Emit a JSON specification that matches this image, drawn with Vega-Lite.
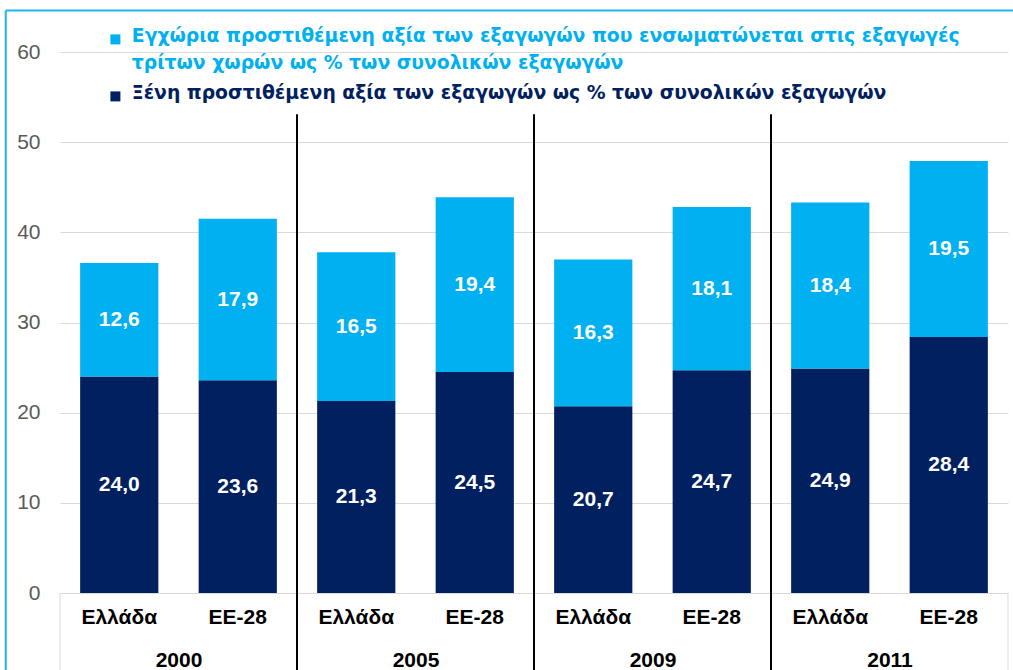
{
  "$schema": "https://vega.github.io/schema/vega-lite/v6.json",
  "width": 948,
  "height": 541,
  "autosize": "none",
  "padding": {"left": 60, "top": 52, "right": 5, "bottom": 77},
  "config": {
    "view": {"stroke": null},
    "font": "Liberation Sans",
    "locale": {"number": {"decimal": ",", "thousands": ".", "grouping": [3], "currency": ["", " €"]}}
  },
  "datasets": {
    "bars": [
      {"key": "2000|Ελλάδα", "series": "Ξένη προστιθέμενη αξία των εξαγωγών ως % των συνολικών εξαγωγών", "ord": 1, "value": 24.0},
      {"key": "2000|Ελλάδα", "series": "Εγχώρια προστιθέμενη αξία των εξαγωγών που ενσωματώνεται στις εξαγωγές τρίτων χωρών ως % των συνολικών εξαγωγών", "ord": 2, "value": 12.6},
      {"key": "2000|ΕΕ-28", "series": "Ξένη προστιθέμενη αξία των εξαγωγών ως % των συνολικών εξαγωγών", "ord": 1, "value": 23.6},
      {"key": "2000|ΕΕ-28", "series": "Εγχώρια προστιθέμενη αξία των εξαγωγών που ενσωματώνεται στις εξαγωγές τρίτων χωρών ως % των συνολικών εξαγωγών", "ord": 2, "value": 17.9},
      {"key": "2005|Ελλάδα", "series": "Ξένη προστιθέμενη αξία των εξαγωγών ως % των συνολικών εξαγωγών", "ord": 1, "value": 21.3},
      {"key": "2005|Ελλάδα", "series": "Εγχώρια προστιθέμενη αξία των εξαγωγών που ενσωματώνεται στις εξαγωγές τρίτων χωρών ως % των συνολικών εξαγωγών", "ord": 2, "value": 16.5},
      {"key": "2005|ΕΕ-28", "series": "Ξένη προστιθέμενη αξία των εξαγωγών ως % των συνολικών εξαγωγών", "ord": 1, "value": 24.5},
      {"key": "2005|ΕΕ-28", "series": "Εγχώρια προστιθέμενη αξία των εξαγωγών που ενσωματώνεται στις εξαγωγές τρίτων χωρών ως % των συνολικών εξαγωγών", "ord": 2, "value": 19.4},
      {"key": "2009|Ελλάδα", "series": "Ξένη προστιθέμενη αξία των εξαγωγών ως % των συνολικών εξαγωγών", "ord": 1, "value": 20.7},
      {"key": "2009|Ελλάδα", "series": "Εγχώρια προστιθέμενη αξία των εξαγωγών που ενσωματώνεται στις εξαγωγές τρίτων χωρών ως % των συνολικών εξαγωγών", "ord": 2, "value": 16.3},
      {"key": "2009|ΕΕ-28", "series": "Ξένη προστιθέμενη αξία των εξαγωγών ως % των συνολικών εξαγωγών", "ord": 1, "value": 24.7},
      {"key": "2009|ΕΕ-28", "series": "Εγχώρια προστιθέμενη αξία των εξαγωγών που ενσωματώνεται στις εξαγωγές τρίτων χωρών ως % των συνολικών εξαγωγών", "ord": 2, "value": 18.1},
      {"key": "2011|Ελλάδα", "series": "Ξένη προστιθέμενη αξία των εξαγωγών ως % των συνολικών εξαγωγών", "ord": 1, "value": 24.9},
      {"key": "2011|Ελλάδα", "series": "Εγχώρια προστιθέμενη αξία των εξαγωγών που ενσωματώνεται στις εξαγωγές τρίτων χωρών ως % των συνολικών εξαγωγών", "ord": 2, "value": 18.4},
      {"key": "2011|ΕΕ-28", "series": "Ξένη προστιθέμενη αξία των εξαγωγών ως % των συνολικών εξαγωγών", "ord": 1, "value": 28.4},
      {"key": "2011|ΕΕ-28", "series": "Εγχώρια προστιθέμενη αξία των εξαγωγών που ενσωματώνεται στις εξαγωγές τρίτων χωρών ως % των συνολικών εξαγωγών", "ord": 2, "value": 19.5}
    ],
    "separators": [{"boundary": 2}, {"boundary": 4}, {"boundary": 6}],
    "edges": [{"boundary": 0}, {"boundary": 8}],
    "frame": [{"boundary": -0.458}]
  },
  "resolve": {"scale": {"x": "independent"}, "axis": {"x": "independent"}},
  "layer": [
    {
      "data": {"name": "bars"},
      "transform": [
        {"stack": "value", "groupby": ["key"], "sort": [{"field": "ord"}], "as": ["v0", "v1"]},
        {"calculate": "(datum.v0 + datum.v1) / 2", "as": "mid"}
      ],
      "encoding": {
        "x": {
          "field": "key", "type": "nominal", "sort": null,
          "scale": {"paddingInner": 0.34, "paddingOuter": 0.17},
          "axis": {
            "orient": "bottom", "title": null, "ticks": false, "domain": true, "domainColor": "#D9D9D9", "domainWidth": 1,
            "labelAngle": 0, "labelFont": "Liberation Sans", "labelFontSize": 21, "labelFontWeight": "bold",
            "labelColor": "#000000", "labelPadding": 13,
            "labelExpr": "split(datum.value, '|')[1]"
          }
        }
      },
      "layer": [
        {
          "mark": {"type": "bar"},
          "encoding": {
            "y": {
              "field": "v0", "type": "quantitative",
              "scale": {"domain": [0, 60], "nice": false, "zero": false},
              "axis": {
                "title": null, "values": [0, 10, 20, 30, 40, 50, 60], "ticks": false, "domain": false,
                "grid": true, "gridColor": "#D9D9D9", "gridWidth": 1,
                "labelFont": "Liberation Sans", "labelFontSize": 21, "labelColor": "#595959", "labelPadding": 20
              }
            },
            "y2": {"field": "v1"},
            "color": {
              "field": "series", "type": "nominal",
              "scale": {
                "domain": ["Εγχώρια προστιθέμενη αξία των εξαγωγών που ενσωματώνεται στις εξαγωγές τρίτων χωρών ως % των συνολικών εξαγωγών", "Ξένη προστιθέμενη αξία των εξαγωγών ως % των συνολικών εξαγωγών"],
                "range": ["#00B0F0", "#002060"]
              },
              "legend": {
                "orient": "none", "legendX": 46, "legendY": -22, "title": null,
                "symbolType": "square", "symbolSize": 100, "symbolStrokeWidth": 0,
                "labelFont": "DejaVu Sans", "labelFontSize": 18.8, "labelFontWeight": "bold",
                "labelLimit": 1000, "labelOffset": 7, "rowPadding": 10, "padding": 0,
                "labelExpr": "indexof(datum.value, 'Εγχώρια') == 0 ? ['Εγχώρια προστιθέμενη αξία των εξαγωγών που ενσωματώνεται στις εξαγωγές', 'τρίτων χωρών ως % των συνολικών εξαγωγών'] : datum.value",
                "encode": {
                  "labels": {
                    "update": {
                      "fill": {"signal": "indexof(datum.value, 'Εγχώρια') == 0 ? '#00B0F0' : '#002060'"},
                      "lineHeight": {"value": 27},
                      "baseline": {"value": "top"},
                      "dy": {"value": -12}
                    }
                  }
                }
              }
            },
            "order": {"field": "ord"}
          }
        },
        {
          "mark": {"type": "text", "color": "#FFFFFF", "font": "Liberation Sans", "fontSize": 21, "fontWeight": "bold", "baseline": "middle"},
          "encoding": {
            "y": {"field": "mid", "type": "quantitative"},
            "text": {"field": "value", "type": "quantitative", "format": ".1f"}
          }
        }
      ]
    },
    {
      "encoding": {
        "x": {
          "field": "boundary", "type": "quantitative",
          "scale": {"domain": [0, 8], "nice": false, "zero": false},
          "axis": {
            "orient": "bottom", "title": null, "values": [1, 3, 5, 7], "ticks": false, "domain": false, "grid": false,
            "labelFont": "Liberation Sans", "labelFontSize": 21, "labelFontWeight": "bold", "labelColor": "#000000",
            "labelPadding": 56,
            "labelExpr": "['2000', '2005', '2009', '2011'][(datum.value - 1) / 2]"
          }
        }
      },
      "layer": [
        {
          "data": {"name": "separators"},
          "mark": {"type": "rule", "color": "#000000", "strokeWidth": 2},
          "encoding": {
            "y": {"datum": 53.1, "type": "quantitative"},
            "y2": {"datum": -8.6}
          }
        },
        {
          "data": {"name": "edges"},
          "mark": {"type": "rule", "color": "#D9D9D9", "strokeWidth": 1},
          "encoding": {
            "y": {"datum": 0, "type": "quantitative"},
            "y2": {"datum": -8.6}
          }
        },
        {
          "data": {"name": "frame"},
          "mark": {"type": "rule", "color": "#1EB4F0", "strokeWidth": 2},
          "encoding": {
            "y": {"datum": 64.6, "type": "quantitative"},
            "y2": {"datum": -10}
          }
        },
        {
          "data": {"name": "frame"},
          "mark": {"type": "rule", "color": "#1EB4F0", "strokeWidth": 2},
          "encoding": {
            "x2": {"datum": 8.1},
            "y": {"datum": 64.6, "type": "quantitative"}
          }
        }
      ]
    }
  ]
}
